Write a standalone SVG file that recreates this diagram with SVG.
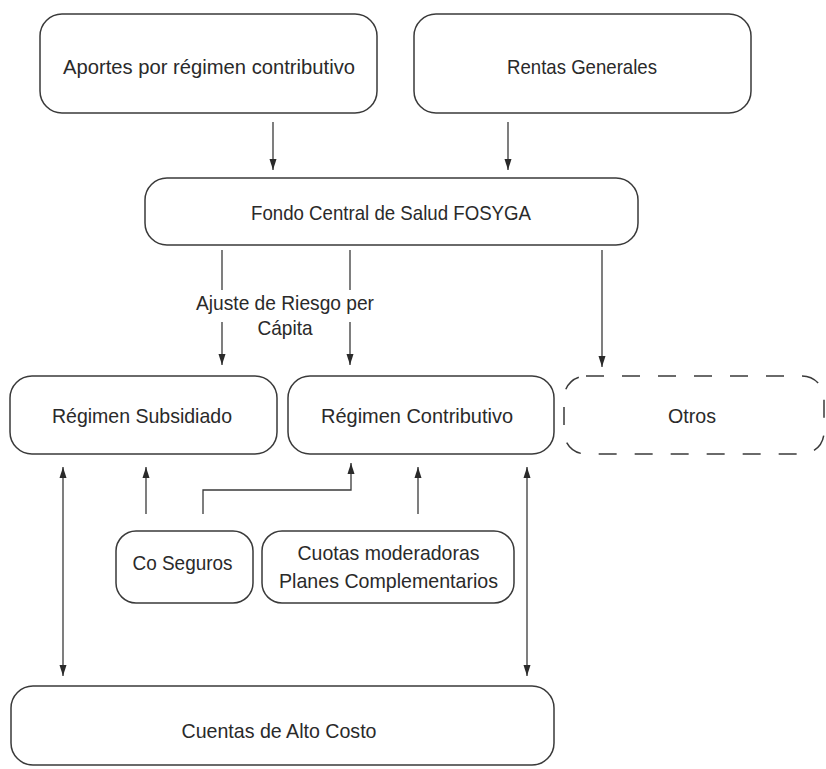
<svg xmlns="http://www.w3.org/2000/svg" width="826" height="769" viewBox="0 0 826 769">
  <style>
    .box { fill: #ffffff; stroke: #3a3a3a; stroke-width: 1.5; }
    .dash { fill: #ffffff; stroke: #3a3a3a; stroke-width: 1.5; stroke-dasharray: 18 18; }
    .lbl { font-family: "Liberation Sans", Arial, sans-serif; font-size: 21px; fill: #2a2a2a; text-anchor: middle; }
    .con { fill: none; stroke: #3a3a3a; stroke-width: 1.3; }
  </style>
  <defs>
    <marker id="arr" viewBox="0 0 11 10" refX="11" refY="5" markerWidth="11" markerHeight="10" markerUnits="userSpaceOnUse" orient="auto-start-reverse">
      <path d="M0,1.5 L11,5 L0,8.5 Z" fill="#2a2a2a"/>
    </marker>
  </defs>
  <rect width="826" height="769" fill="#ffffff"/>

  <g id="aportes">
    <rect class="box" x="40" y="14" width="337" height="99" rx="22"/>
    <text class="lbl" x="209" y="74" textLength="292" lengthAdjust="spacingAndGlyphs">Aportes por régimen contributivo</text>
  </g>
  <g id="rentas">
    <rect class="box" x="414" y="14" width="337" height="99" rx="22"/>
    <text class="lbl" x="582" y="74" textLength="150" lengthAdjust="spacingAndGlyphs">Rentas Generales</text>
  </g>
  <g id="fondo">
    <rect class="box" x="145" y="178" width="493" height="67" rx="22"/>
    <text class="lbl" x="391" y="220" textLength="280" lengthAdjust="spacingAndGlyphs">Fondo Central de Salud FOSYGA</text>
  </g>
  <g id="subsidiado">
    <rect class="box" x="10" y="376" width="267" height="78" rx="22"/>
    <text class="lbl" x="142" y="423" textLength="180" lengthAdjust="spacingAndGlyphs">Régimen Subsidiado</text>
  </g>
  <g id="contributivo">
    <rect class="box" x="288" y="376" width="266" height="78" rx="22"/>
    <text class="lbl" x="417" y="423" textLength="192" lengthAdjust="spacingAndGlyphs">Régimen Contributivo</text>
  </g>
  <g id="otros">
    <rect class="dash" x="564" y="376" width="260" height="78" rx="22"/>
    <text class="lbl" x="692" y="423" textLength="48" lengthAdjust="spacingAndGlyphs">Otros</text>
  </g>
  <g id="coseguros">
    <rect class="box" x="116" y="531" width="137" height="72" rx="20"/>
    <text class="lbl" x="182.5" y="570" textLength="100" lengthAdjust="spacingAndGlyphs">Co Seguros</text>
  </g>
  <g id="cuotas">
    <rect class="box" x="262" y="531" width="252" height="72" rx="20"/>
    <text class="lbl" x="388.5" y="560" textLength="182" lengthAdjust="spacingAndGlyphs">Cuotas moderadoras</text>
    <text class="lbl" x="388.5" y="588" textLength="219" lengthAdjust="spacingAndGlyphs">Planes Complementarios</text>
  </g>
  <g id="cuentas">
    <rect class="box" x="11" y="686" width="543" height="79" rx="22"/>
    <text class="lbl" x="279" y="738" textLength="195" lengthAdjust="spacingAndGlyphs">Cuentas de Alto Costo</text>
  </g>

  <g id="connectors">
    <line class="con" x1="273" y1="122" x2="273" y2="170" marker-end="url(#arr)"/>
    <line class="con" x1="508" y1="122" x2="508" y2="170" marker-end="url(#arr)"/>
    <line class="con" x1="222" y1="250" x2="222" y2="290"/>
    <line class="con" x1="222" y1="322" x2="222" y2="365" marker-end="url(#arr)"/>
    <line class="con" x1="350" y1="250" x2="350" y2="290"/>
    <line class="con" x1="350" y1="322" x2="350" y2="365" marker-end="url(#arr)"/>
    <text class="lbl" x="285" y="310" textLength="178" lengthAdjust="spacingAndGlyphs">Ajuste de Riesgo per</text>
    <text class="lbl" x="285" y="335" textLength="55" lengthAdjust="spacingAndGlyphs">Cápita</text>
    <line class="con" x1="602" y1="250" x2="602" y2="367" marker-end="url(#arr)"/>
    <line class="con" x1="146" y1="514" x2="146" y2="467" marker-end="url(#arr)"/>
    <polyline class="con" points="203,514 203,490 351,490 351,463" marker-end="url(#arr)"/>
    <line class="con" x1="418" y1="514" x2="418" y2="467" marker-end="url(#arr)"/>
    <line class="con" x1="63" y1="467" x2="63" y2="676" marker-start="url(#arr)" marker-end="url(#arr)"/>
    <line class="con" x1="527" y1="467" x2="527" y2="676" marker-start="url(#arr)" marker-end="url(#arr)"/>
  </g>
</svg>
